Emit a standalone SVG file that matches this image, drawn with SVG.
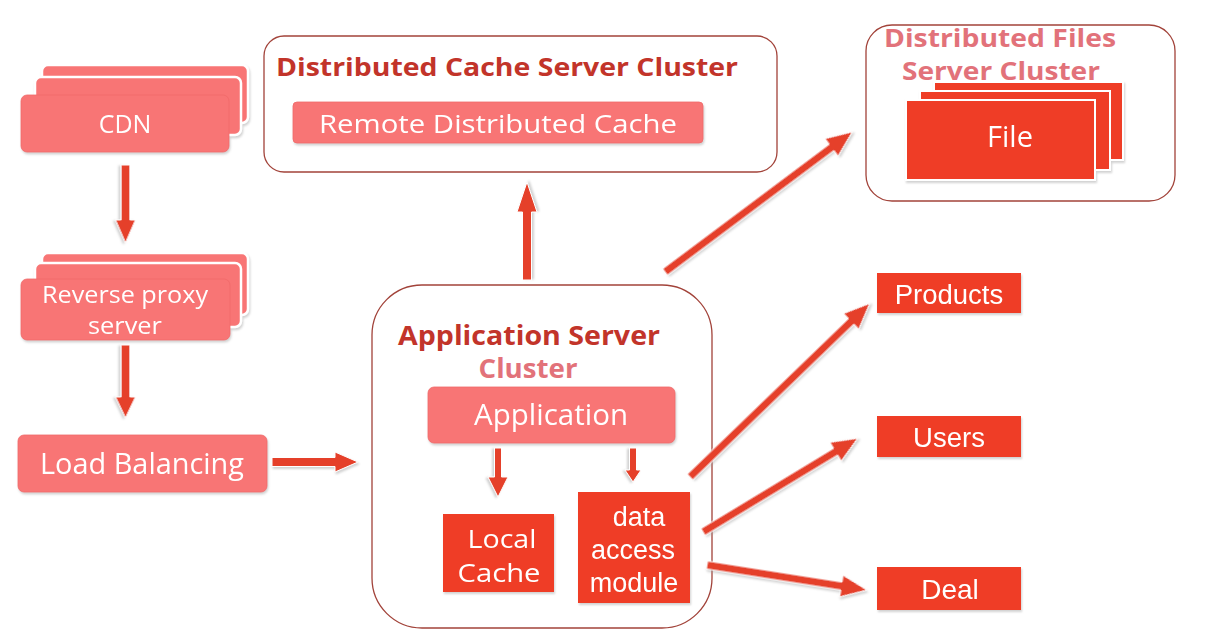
<svg xmlns="http://www.w3.org/2000/svg" width="1221" height="639" viewBox="0 0 1221 639">
<defs>
<style>
.bg{fill:#ffffff}
.cluster{fill:#ffffff;stroke:#a2433a;stroke-width:1.3}
.salmon{fill:#f87474;stroke:#f06a6a;stroke-width:0.8}
.red{fill:#ef3d26}
.stackback{fill:#f87474;stroke:#ffffff;stroke-width:2.5}
.wt{fill:#ffffff;font-family:"Open Sans","Noto Sans",sans-serif;text-anchor:middle}
.wa{fill:#ffffff;font-family:"Liberation Sans",Arial,sans-serif;text-anchor:middle}
.title{fill:#c2342a;font-family:"Open Sans","Noto Sans",sans-serif;font-weight:bold}
.pink{fill:#e2727a;font-family:"Open Sans","Noto Sans",sans-serif;font-weight:bold}
.arrow{fill:#e5402a;stroke:#ffffff;stroke-width:1;filter:url(#sh)}
.shadowed{filter:url(#sh)}
</style>
<filter id="sh" x="-10%" y="-10%" width="120%" height="130%">
<feDropShadow dx="1" dy="2" stdDeviation="1.2" flood-color="#999999" flood-opacity="0.45"/>
</filter>
</defs>
<rect class="bg" x="0" y="0" width="1221" height="639"/>

<g id="cdn" class="shadowed">
<rect class="stackback" x="42" y="65" width="206" height="58" rx="6"/>
<rect class="stackback" x="35" y="77" width="206" height="58" rx="6"/>
<rect class="salmon" x="21" y="95" width="208" height="57" rx="6" stroke="#ffffff" stroke-width="2.5"/>
<text class="wt" x="125" y="133" font-size="25">CDN</text>
</g>

<g id="reverse-proxy" class="shadowed">
<rect class="stackback" x="42" y="253" width="206" height="62" rx="6"/>
<rect class="stackback" x="35" y="263" width="206" height="64" rx="6"/>
<rect class="salmon" x="21" y="279" width="209" height="61" rx="6" stroke="#ffffff" stroke-width="2.5"/>
<text class="wt" x="125" y="303" font-size="23" textLength="166" lengthAdjust="spacingAndGlyphs">Reverse proxy</text>
<text class="wt" x="125" y="334" font-size="23" textLength="74" lengthAdjust="spacingAndGlyphs">server</text>
</g>

<g id="load-balancing" class="shadowed">
<rect class="salmon" x="18" y="435" width="249" height="57" rx="6"/>
<text class="wt" x="142" y="474" font-size="28.5" textLength="204" lengthAdjust="spacingAndGlyphs">Load Balancing</text>
</g>

<g id="cache-cluster">
<rect class="cluster" x="264" y="36" width="513" height="136" rx="20"/>
<text class="title" x="276" y="76" font-size="25.5" textLength="462" lengthAdjust="spacingAndGlyphs">Distributed Cache Server Cluster</text>
<g id="remote-cache" class="shadowed">
<rect class="salmon" x="293" y="102" width="410" height="41" rx="4"/>
<text class="wt" x="498" y="133" font-size="26" textLength="358" lengthAdjust="spacingAndGlyphs">Remote Distributed Cache</text>
</g>
</g>

<g id="files-cluster">
<rect class="cluster" x="866" y="25" width="309" height="176" rx="26"/>
<text class="pink" x="1000" y="47" font-size="25.5" text-anchor="middle" textLength="232" lengthAdjust="spacingAndGlyphs">Distributed Files</text>
<g id="file" class="shadowed">
<rect class="red" x="934" y="82" width="189" height="78" stroke="#ffffff" stroke-width="2"/>
<rect class="red" x="920" y="91" width="190" height="79" stroke="#ffffff" stroke-width="2"/>
<rect class="red" x="906" y="100" width="189" height="80" stroke="#ffffff" stroke-width="2"/>
<text class="wt" x="1010" y="147" font-size="29">File</text>
</g>
<text class="pink" x="1001" y="80" font-size="25.5" text-anchor="middle" textLength="198" lengthAdjust="spacingAndGlyphs">Server Cluster</text>
</g>

<g id="app-cluster">
<rect class="cluster" x="372" y="285" width="340" height="343" rx="50"/>
<text class="title" x="398" y="345" font-size="26" textLength="262" lengthAdjust="spacingAndGlyphs">Application Server</text>
<text class="pink" x="528" y="378" font-size="26" text-anchor="middle" textLength="99" lengthAdjust="spacingAndGlyphs">Cluster</text>
<g id="application" class="shadowed">
<rect class="salmon" x="428" y="387" width="247" height="56" rx="6"/>
<text class="wt" x="551" y="425" font-size="29" textLength="154" lengthAdjust="spacingAndGlyphs">Application</text>
</g>
<g id="local-cache" class="shadowed">
<rect class="red" x="443" y="514" width="111" height="78"/>
<text class="wt" x="502" y="548" font-size="26" textLength="69" lengthAdjust="spacingAndGlyphs">Local</text>
<text class="wt" x="499" y="582" font-size="26" textLength="83" lengthAdjust="spacingAndGlyphs">Cache</text>
</g>
<g id="data-access" class="shadowed">
<rect class="red" x="578" y="492" width="112" height="111"/>
<text class="wa" x="639" y="526" font-size="27">data</text>
<text class="wa" x="633" y="559" font-size="27">access</text>
<text class="wa" x="634" y="592" font-size="27">module</text>
</g>
</g>

<g id="products" class="shadowed">
<rect class="red" x="877" y="273" width="144" height="40"/>
<text class="wa" x="949" y="304" font-size="27.5">Products</text>
</g>
<g id="users" class="shadowed">
<rect class="red" x="877" y="416" width="144" height="41"/>
<text class="wa" x="949" y="447" font-size="27.5">Users</text>
</g>
<g id="deal" class="shadowed">
<rect class="red" x="877" y="567" width="144" height="43"/>
<text class="wa" x="950" y="599" font-size="28">Deal</text>
</g>

<g id="connectors">
<path class="arrow" transform="translate(125.5,165) rotate(90)" d="M0,-4.5 L55,-4.5 L55,-10 L78,0 L55,10 L55,4.5 L0,4.5 Z"/>
<path class="arrow" transform="translate(125.5,345) rotate(90)" d="M0,-4.5 L52,-4.5 L52,-10 L73,0 L52,10 L52,4.5 L0,4.5 Z"/>
<path class="arrow" transform="translate(272,462)" d="M0,-4.5 L63,-4.5 L63,-10 L86,0 L63,10 L63,4.5 L0,4.5 Z"/>
<path class="arrow" transform="translate(527,280) rotate(-90)" d="M0,-4.5 L68,-4.5 L68,-10 L98,0 L68,10 L68,4.5 L0,4.5 Z"/>
<path class="arrow" transform="translate(665,272) rotate(-36.8)" d="M0,-4 L208,-4 L208,-11 L234,0 L208,11 L208,4 L0,4 Z"/>
<path class="arrow" transform="translate(690,477) rotate(-44)" d="M0,-4 L224,-4 L224,-11 L250,0 L224,11 L224,4 L0,4 Z"/>
<path class="arrow" transform="translate(703,532) rotate(-31.2)" d="M0,-4 L155,-4 L155,-11 L181,0 L155,11 L155,4 L0,4 Z"/>
<path class="arrow" transform="translate(707,565) rotate(8.9)" d="M0,-4 L136,-4 L136,-11 L162,0 L136,11 L136,4 L0,4 Z"/>
<path class="arrow" transform="translate(498,448) rotate(90)" d="M0,-3.5 L29,-3.5 L29,-10 L49,0 L29,10 L29,3.5 L0,3.5 Z"/>
<path class="arrow" transform="translate(633,448) rotate(90)" d="M0,-3.5 L22,-3.5 L22,-8 L34,0 L22,8 L22,3.5 L0,3.5 Z"/>
</g>
</svg>
